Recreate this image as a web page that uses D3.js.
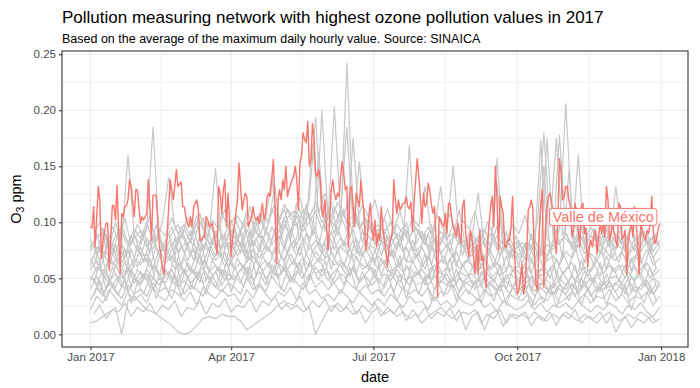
<!DOCTYPE html>
<html>
<head>
<meta charset="utf-8">
<script src="https://cdn.jsdelivr.net/npm/d3@7"></script>
<style>
  body { margin: 0; background: #fff; }
  svg { font-family: "Liberation Sans", Arial, Helvetica, sans-serif; }
</style>
</head>
<body>
<div id="chart"></div>
<script>
// ---- data ----
const titleText = "Pollution measuring network with highest ozone pollution values in 2017";
const subtitleText = "Based on the average of the maximum daily hourly value. Source: SINAICA";
const highlightName = "Valle de México";
const yTicks = [0, 0.05, 0.10, 0.15, 0.20, 0.25];
const xTickLabels = ["Jan 2017", "Apr 2017", "Jul 2017", "Oct 2017", "Jan 2018"];

// Valle de México: [day of 2017, O3 ppm]
const valleMexico = [
  [0,.096],[1,.095],[2,.114],[3,.078],[5,.132],[6,.120],[7,.068],[8,.084],[10,.099],[11,.099],
  [12,.057],[14,.115],[15,.115],[16,.102],[17,.133],[19,.054],[20,.108],[21,.105],[22,.114],[23,.115],
  [24,.120],[25,.138],[26,.132],[28,.105],[29,.129],[30,.129],[31,.114],[32,.099],[33,.105],[34,.102],
  [35,.105],[36,.108],[37,.138],[38,.114],[39,.084],[40,.124],[41,.124],[42,.124],[44,.081],[46,.060],
  [47,.053],[49,.087],[51,.138],[52,.129],[53,.120],[55,.147],[56,.132],[58,.136],[59,.114],[60,.114],
  [61,.105],[62,.099],[63,.096],[64,.105],[65,.096],[66,.114],[68,.120],[69,.111],[70,.084],[71,.084],
  [72,.087],[73,.087],[74,.105],[75,.102],[76,.096],[78,.099],[79,.090],[80,.081],[81,.072],[82,.132],
  [83,.126],[84,.108],[85,.129],[86,.138],[87,.096],[88,.126],[89,.102],[90,.069],[91,.087],[92,.096],
  [94,.120],[95,.153],[96,.132],[97,.111],[99,.126],[100,.123],[101,.096],[103,.105],[104,.114],[105,.105],
  [106,.102],[107,.105],[108,.099],[110,.117],[111,.102],[112,.108],[113,.123],[114,.126],[115,.123],[117,.156],
  [118,.114],[119,.063],[120,.120],[121,.129],[122,.120],[123,.138],[124,.129],[125,.150],[126,.123],[127,.129],
  [129,.138],[130,.141],[131,.150],[132,.138],[133,.111],[134,.153],[135,.159],[136,.180],[137,.174],[138,.171],
  [139,.190],[140,.150],[141,.156],[142,.188],[143,.176],[144,.144],[145,.141],[146,.147],[147,.138],[148,.111],
  [149,.105],[150,.120],[151,.096],[152,.075],[153,.102],[154,.129],[155,.138],[156,.126],[157,.120],[158,.126],
  [159,.123],[160,.141],[161,.154],[162,.144],[163,.129],[164,.132],[165,.078],[166,.129],[167,.132],[169,.096],
  [170,.126],[172,.114],[173,.138],[174,.120],[175,.108],[176,.075],[177,.084],[178,.105],[179,.117],[180,.096],
  [181,.084],[182,.102],[183,.078],[184,.090],[185,.084],[186,.114],[187,.096],[188,.084],[189,.075],[190,.060],
  [191,.078],[193,.090],[194,.138],[195,.120],[196,.108],[197,.120],[198,.111],[199,.114],[200,.117],[201,.117],
  [202,.123],[203,.114],[204,.112],[205,.118],[206,.092],[207,.118],[209,.157],[210,.141],[211,.123],[212,.099],
  [213,.126],[214,.114],[215,.117],[216,.135],[217,.129],[218,.117],[219,.108],[220,.114],[221,.087],[222,.033],
  [223,.105],[224,.102],[225,.099],[226,.096],[227,.108],[228,.090],[229,.117],[230,.117],[231,.105],[232,.096],
  [233,.093],[234,.087],[235,.099],[236,.090],[237,.081],[238,.114],[239,.120],[240,.090],[241,.081],[242,.069],
  [243,.093],[244,.087],[245,.069],[246,.054],[247,.080],[248,.054],[249,.093],[250,.066],[251,.070],[252,.054],
  [253,.042],[254,.081],[255,.099],[256,.114],[257,.123],[258,.096],[259,.150],[260,.123],[261,.075],[262,.123],
  [263,.114],[264,.108],[265,.078],[266,.078],[267,.084],[268,.084],[269,.096],[270,.123],[271,.080],[272,.051],
  [273,.036],[274,.039],[275,.050],[276,.063],[277,.036],[278,.045],[279,.072],[280,.111],[281,.114],[282,.120],
  [283,.111],[284,.069],[285,.045],[286,.039],[287,.090],[288,.115],[289,.129],[290,.042],[291,.093],[292,.114],
  [293,.123],[294,.126],[295,.117],[296,.108],[297,.087],[298,.072],[299,.105],[300,.157],[301,.144],[302,.120],
  [303,.122],[304,.132],[305,.132],[306,.120],[307,.114],[308,.087],[309,.093],[310,.117],[311,.106],[312,.093],
  [313,.078],[314,.114],[315,.117],[316,.090],[317,.095],[318,.060],[319,.078],[320,.084],[321,.078],[322,.087],
  [323,.093],[324,.072],[325,.087],[326,.099],[327,.090],[328,.099],[329,.087],[330,.132],[331,.120],[332,.084],
  [333,.090],[334,.099],[335,.090],[337,.078],[338,.117],[339,.114],[340,.085],[341,.087],[342,.093],[343,.054],
  [344,.084],[345,.093],[346,.099],[347,.087],[348,.114],[349,.099],[350,.081],[351,.054],[352,.099],[353,.093],
  [354,.087],[355,.084],[356,.093],[357,.090],[358,.099],[359,.123],[360,.093],[361,.081],[362,.084],[363,.093],
  [364,.099]
];

// other networks, one value every 4 days from Jan 1
const other01 = [.085,.070,.095,.078,.100,.082,.160,.088, .080,.094,.185,.086,.074,.090,.098, .084,.070,.092,.104,.080,.090,.076,.088, .096,.078,.100,.086,.108,.094,.084, .098,.112,.090,.118,.102,.120,.194,.106, .096,.114,.098,.242,.110,.096,.104,.090, .088,.104,.084,.098,.090,.086,.096, .084,.078,.094,.132,.086,.090,.080,.084, .076,.088,.080,.074,.157,.084,.072,.088, .068,.082,.074,.173,.086,.078,.094, .206,.104,.090,.084,.096,.086,.080,.090, .082,.076,.088,.074,.092,.080,.086,.078];
const other02 = [.075,.090,.068,.082,.072,.092,.078,.086, .092,.078,.088,.070,.084,.096,.080, .094,.082,.100,.076,.090,.148,.084,.096, .080,.094,.072,.098,.086,.102,.141, .090,.104,.084,.110,.096,.108,.092,.200, .102,.203,.106,.092,.175,.098,.088,.100, .082,.094,.078,.090,.084,.169,.080, .092,.076,.086,.080,.094,.150,.082,.078, .086,.126,.078,.090,.076,.084,.070,.082, .078,.066,.084,.072,.175,.086,.080, .090,.080,.160,.076,.088,.082,.094,.078, .132,.084,.072,.086,.078,.090,.074,.084];
const other03 = [.062,.078,.070,.084,.066,.080,.072,.090, .070,.086,.076,.092,.068,.082,.074, .080,.092,.074,.088,.082,.070,.090,.078, .088,.072,.094,.080,.090,.076,.096, .084,.098,.088,.106,.092,.100,.110,.094, .106,.090,.110,.185,.096,.154,.090,.084, .094,.080,.088,.076,.092,.082,.074, .080,.090,.074,.086,.078,.088,.111,.076, .080,.072,.086,.078,.135,.074,.082,.068, .074,.082,.068,.078,.070,.084,.178, .092,.076,.086,.072,.082,.078,.070,.084, .076,.086,.070,.080,.074,.084,.068,.078];
const other04 = [.058,.066,.052,.070,.060,.074,.056,.068, .062,.072,.058,.076,.064,.070,.060, .068,.056,.074,.062,.078,.066,.072,.060, .070,.082,.064,.076,.068,.080,.072, .074,.066,.082,.070,.086,.076,.084,.072, .080,.068,.078,.072,.084,.070,.076,.066, .070,.062,.074,.060,.068,.064,.072, .060,.070,.056,.066,.062,.072,.058,.066, .062,.056,.068,.058,.064,.054,.062,.058, .052,.060,.048,.058,.054,.062,.050, .058,.064,.052,.060,.056,.066,.054,.062, .056,.062,.050,.060,.054,.064,.052,.058];
const other05 = [.048,.060,.054,.044,.062,.050,.058,.046, .056,.048,.062,.052,.058,.046,.064, .054,.060,.050,.066,.056,.062,.052,.068, .058,.064,.054,.070,.060,.066,.056, .064,.058,.072,.062,.068,.060,.074,.066, .070,.062,.066,.058,.072,.064,.060,.068, .058,.066,.054,.062,.056,.060,.052, .058,.050,.062,.054,.060,.048,.056,.052, .054,.048,.058,.050,.056,.046,.054,.050, .046,.052,.044,.054,.048,.042,.050, .044,.052,.046,.056,.048,.054,.044,.050, .052,.046,.056,.048,.054,.044,.050,.046];
const other06 = [.040,.052,.036,.048,.042,.056,.038,.050, .044,.054,.040,.050,.046,.058,.042, .048,.040,.056,.046,.052,.042,.058,.048, .052,.046,.060,.048,.056,.044,.062, .050,.058,.046,.062,.054,.048,.060,.052, .056,.046,.054,.050,.060,.048,.052,.044, .050,.042,.054,.046,.040,.052,.044, .046,.054,.040,.048,.044,.050,.038,.046, .042,.050,.038,.046,.040,.044,.036,.048, .038,.044,.034,.042,.036,.046,.040, .036,.044,.038,.048,.034,.042,.040,.046, .038,.046,.034,.042,.040,.048,.036,.044];
const other07 = [.030,.042,.034,.046,.038,.032,.044,.036, .040,.034,.046,.038,.042,.032,.048, .036,.044,.040,.034,.048,.042,.038,.046, .042,.036,.050,.040,.046,.038,.052, .044,.038,.052,.046,.040,.054,.042,.048, .040,.046,.036,.048,.042,.038,.044,.036, .040,.034,.044,.030,.042,.036,.040, .034,.042,.030,.038,.036,.044,.032,.040, .036,.030,.040,.034,.038,.028,.036,.032, .030,.036,.026,.034,.030,.038,.028, .032,.038,.030,.036,.028,.034,.032,.040, .030,.036,.028,.034,.032,.038,.026,.034];
const other08 = [.010,.012,.016,.020,.024,.000,.030,.034, .028,.022,.020,.016,.012,.008,.002, .000,.002,.008,.014,.016,.014,.018,.016, .016,.012,.004,.008,.012,.016,.020, .026,.030,.022,.026,.020,.024,.000,.012, .022,.026,.020,.024,.018,.022,.010,.020, .024,.018,.022,.016,.020,.014,.018, .010,.016,.020,.024,.018,.014,.022,.004, .016,.020,.004,.018,.022,.007,.018,.014, .018,.014,.020,.016,.012,.018,.014, .020,.016,.012,.018,.014,.010,.016,.020, .002,.012,.018,.014,.020,.016,.010,.014];
const other09 = [.022,.034,.028,.040,.032,.026,.038,.030, .036,.028,.042,.034,.030,.040,.036, .030,.038,.026,.042,.036,.032,.040,.034, .036,.028,.040,.032,.044,.036,.030, .038,.034,.042,.030,.046,.036,.040,.032, .036,.030,.040,.034,.028,.038,.032,.026, .032,.026,.036,.030,.024,.034,.028, .030,.022,.034,.026,.030,.024,.032,.028, .026,.032,.024,.028,.020,.030,.026,.022, .024,.030,.022,.028,.020,.026,.024, .028,.022,.030,.024,.020,.026,.022,.028, .024,.018,.026,.022,.028,.020,.016,.024];
const other10 = [.068,.056,.074,.062,.080,.064,.076,.060, .078,.064,.086,.070,.080,.066,.088, .072,.086,.064,.080,.074,.092,.070,.082, .076,.090,.068,.084,.074,.092,.080, .088,.076,.094,.080,.098,.086,.092,.078, .090,.076,.086,.080,.094,.072,.084,.078, .076,.088,.070,.082,.074,.086,.068, .078,.066,.084,.072,.080,.068,.086,.074, .070,.080,.066,.074,.062,.078,.068,.074, .064,.072,.060,.076,.066,.070,.062, .074,.068,.080,.064,.072,.066,.078,.070, .066,.074,.060,.070,.064,.076,.062,.068];
const other11 = [.052,.044,.058,.048,.054,.042,.060,.050, .046,.058,.050,.044,.056,.052,.048, .058,.046,.052,.060,.048,.056,.044,.054, .048,.058,.052,.044,.062,.050,.056, .052,.060,.048,.056,.050,.064,.054,.058, .048,.056,.062,.052,.058,.046,.054,.060, .046,.054,.048,.058,.050,.044,.056, .050,.044,.052,.046,.054,.042,.050,.046, .048,.042,.052,.044,.038,.050,.044,.040, .042,.048,.038,.046,.040,.036,.044, .040,.046,.036,.044,.050,.038,.046,.042, .046,.040,.050,.038,.044,.042,.036,.046];
const other12 = [.078,.086,.092,.074,.088,.096,.082,.094, .086,.100,.082,.094,.088,.104,.090, .098,.088,.106,.094,.100,.086,.108,.096, .104,.092,.110,.098,.106,.090,.112, .100,.116,.104,.096,.112,.104,.118,.100, .108,.096,.112,.100,.106,.094,.102,.092, .098,.090,.100,.086,.096,.088,.094, .086,.096,.082,.092,.084,.098,.088,.080, .090,.082,.094,.078,.088,.080,.086,.076, .082,.074,.086,.070,.080,.076,.084, .086,.078,.092,.080,.096,.084,.088,.078, .090,.080,.086,.076,.092,.082,.088,.080];

// more networks, one value every 4 days from Jan 3
const late01 = [.082,.064,.090,.070,.094,.068,.088,.074, .092,.072,.098,.076,.090,.070,.096,.078, .094,.074,.100,.080,.096,.076,.102,.084, .098,.078,.104,.082,.100,.132,.086,.104, .110,.084,.116,.090,.162,.092,.118,.088, .112,.086,.108,.082,.104,.080,.098,.076, .096,.078,.100,.074,.094,.080,.098,.072, .092,.074,.096,.070,.090,.076,.094,.072, .088,.070,.092,.068,.084,.066,.090,.070, .150,.072,.094,.068,.146,.074,.096,.070, .090,.072,.094,.068,.088,.074,.096,.070, .088,.072,.090];
const late02 = [.060,.078,.056,.082,.062,.076,.054,.080, .064,.084,.058,.080,.066,.086,.060,.082, .066,.088,.062,.084,.070,.090,.064,.086, .072,.092,.066,.088,.074,.094,.068,.090, .076,.098,.070,.094,.080,.102,.074,.096, .078,.100,.072,.092,.076,.096,.070,.088, .068,.088,.064,.084,.070,.090,.062,.082, .064,.084,.060,.080,.066,.086,.058,.078, .060,.080,.056,.076,.062,.082,.054,.074, .058,.078,.052,.074,.060,.080,.056,.076, .062,.082,.058,.078,.064,.084,.056,.076, .060,.078,.058];
const late03 = [.046,.064,.040,.060,.048,.066,.042,.058, .050,.068,.044,.062,.052,.070,.046,.064, .054,.072,.048,.066,.056,.074,.050,.068, .058,.076,.052,.070,.060,.078,.054,.072, .062,.080,.056,.074,.064,.082,.058,.076, .060,.078,.054,.072,.058,.076,.052,.070, .052,.070,.046,.066,.054,.072,.048,.064, .050,.068,.044,.062,.052,.066,.042,.060, .046,.062,.040,.058,.048,.064,.038,.056, .044,.060,.036,.056,.046,.062,.040,.058, .046,.064,.040,.060,.048,.062,.038,.056, .044,.060,.042];
const late04 = [.034,.048,.030,.044,.036,.050,.028,.046, .036,.052,.032,.048,.038,.054,.034,.050, .040,.056,.036,.052,.042,.058,.038,.054, .042,.060,.038,.056,.044,.062,.040,.058, .046,.064,.042,.060,.048,.066,.044,.058, .044,.060,.040,.056,.042,.058,.036,.054, .038,.054,.032,.050,.036,.052,.030,.048, .034,.050,.030,.046,.036,.048,.028,.044, .030,.046,.026,.042,.032,.044,.024,.040, .028,.044,.024,.040,.030,.046,.026,.042, .030,.046,.026,.042,.032,.044,.022,.040, .028,.044,.030];
const late05 = [.090,.100,.076,.096,.084,.104,.080,.098, .088,.106,.082,.100,.140,.096,.086,.104, .092,.108,.084,.102,.094,.112,.088,.106, .096,.114,.090,.108,.100,.118,.094,.112, .104,.122,.098,.170,.108,.126,.100,.118, .106,.124,.100,.116,.104,.120,.096,.112, .094,.110,.088,.104,.096,.132,.090,.106, .092,.108,.086,.102,.094,.110,.084,.100, .088,.104,.082,.098,.090,.106,.084,.100, .180,.096,.175,.088,.104,.080,.098,.084, .094,.082,.098,.078,.092,.084,.096,.080, .092,.078,.090];
const late06 = [.018,.026,.014,.022,.020,.028,.016,.024, .020,.028,.018,.026,.022,.030,.016,.024, .022,.030,.018,.028,.024,.032,.020,.026, .024,.032,.020,.030,.026,.034,.022,.028, .026,.034,.022,.030,.024,.032,.020,.028, .022,.030,.018,.026,.020,.028,.016,.024, .018,.026,.012,.022,.016,.024,.014,.020, .016,.024,.012,.020,.018,.022,.010,.018, .014,.022,.010,.018,.016,.020,.008,.016, .012,.020,.008,.018,.014,.022,.010,.016, .014,.020,.010,.018,.012,.016,.006,.014, .010,.016,.012];
const late07 = [.070,.058,.074,.062,.068,.054,.076,.060, .072,.060,.078,.064,.070,.058,.080,.066, .076,.062,.082,.066,.074,.060,.084,.070, .080,.066,.086,.070,.078,.064,.088,.072, .084,.070,.090,.074,.082,.068,.092,.076, .082,.068,.086,.070,.078,.064,.084,.068, .074,.060,.078,.064,.072,.058,.080,.062, .070,.056,.074,.060,.068,.054,.076,.058, .064,.052,.070,.056,.062,.048,.068,.054, .062,.050,.068,.054,.060,.046,.066,.052, .064,.052,.070,.056,.062,.050,.068,.054, .062,.050,.060];
const late08 = [.050,.038,.056,.044,.052,.040,.058,.046, .054,.042,.060,.048,.056,.044,.062,.050, .058,.046,.064,.052,.060,.048,.066,.054, .062,.050,.068,.056,.064,.052,.070,.058, .066,.054,.072,.060,.068,.056,.074,.062, .064,.052,.070,.058,.062,.050,.068,.056, .058,.046,.062,.050,.056,.044,.060,.048, .054,.042,.058,.046,.052,.040,.056,.044, .050,.038,.054,.042,.048,.036,.052,.040, .048,.036,.052,.040,.046,.034,.050,.038, .050,.038,.054,.042,.048,.036,.052,.040, .048,.036,.046];

const otherNetworks = [other01, other02, other03, other04, other05, other06,
                       other07, other08, other09, other10, other11, other12];
const lateNetworks = [late01, late02, late03, late04, late05, late06, late07, late08];
const sampleStep = 4;   // days between values
const lateStart = 2;    // first day of the late* series
const labelDay = 328, labelValue = 0.105;

// ---- chart ----
const width = 700, height = 388;
const panel = { left: 62, right: 688, top: 51, bottom: 347 };
const red = "#F8766D";

const t0 = Date.UTC(2017, 0, 1);
const dayDate = (d) => new Date(t0 + d * 864e5);

const x = d3.scaleUtc()
  .domain([dayDate(-18.2), dayDate(364 + 18.2)])
  .range([panel.left, panel.right]);
const y = d3.scaleLinear()
  .domain([-0.0113, 0.2529])
  .range([panel.bottom, panel.top]);

const svg = d3.select("#chart").append("svg")
  .attr("width", width).attr("height", height);

// grid
const xMajor = d3.utcMonth.every(3).range(dayDate(-18), dayDate(383));
const xMinor = d3.pairs(xMajor).map(([a, b]) => new Date((+a + +b) / 2));
const yMinor = d3.pairs(yTicks).map(([a, b]) => (a + b) / 2);
const grid = svg.append("g").attr("stroke", "#EBEBEB");
grid.selectAll(".xm").data(xMinor).join("line")
  .attr("x1", (d) => x(d)).attr("x2", (d) => x(d))
  .attr("y1", panel.top).attr("y2", panel.bottom).attr("stroke-width", 0.6);
grid.selectAll(".ym").data(yMinor).join("line")
  .attr("y1", (d) => y(d)).attr("y2", (d) => y(d))
  .attr("x1", panel.left).attr("x2", panel.right).attr("stroke-width", 0.6);
grid.selectAll(".xM").data(xMajor).join("line")
  .attr("x1", (d) => x(d)).attr("x2", (d) => x(d))
  .attr("y1", panel.top).attr("y2", panel.bottom).attr("stroke-width", 1.1);
grid.selectAll(".yM").data(yTicks).join("line")
  .attr("y1", (d) => y(d)).attr("y2", (d) => y(d))
  .attr("x1", panel.left).attr("x2", panel.right).attr("stroke-width", 1.1);

// lines
const line = d3.line()
  .x((d) => x(dayDate(d[0])))
  .y((d) => y(d[1]));

const grayData = otherNetworks.map((vals) => vals.map((v, i) => [i * sampleStep, v]))
  .concat(lateNetworks.map((vals) => vals.map((v, i) => [lateStart + i * sampleStep, v])));

svg.append("g")
  .selectAll("path")
  .data(grayData)
  .join("path")
  .attr("d", line)
  .attr("fill", "none")
  .attr("stroke", "#C8C8C8")
  .attr("stroke-width", 1.2)
  .attr("stroke-linejoin", "round");

svg.append("path")
  .datum(valleMexico)
  .attr("d", line)
  .attr("fill", "none")
  .attr("stroke", red)
  .attr("stroke-width", 1.4)
  .attr("stroke-linejoin", "round");

// label
const lab = svg.append("g")
  .attr("transform", `translate(${x(dayDate(labelDay))},${y(labelValue)})`);
const labText = lab.append("text")
  .attr("text-anchor", "middle")
  .attr("dy", "0.36em")
  .attr("fill", red)
  .attr("font-size", 14.5)
  .text(highlightName);
const bb = labText.node().getBBox();
lab.insert("rect", "text")
  .attr("x", bb.x - 3).attr("y", bb.y - 0.5)
  .attr("width", bb.width + 6).attr("height", bb.height + 1)
  .attr("rx", 3)
  .attr("fill", "#fff")
  .attr("stroke", red)
  .attr("stroke-width", 1);

// panel border
svg.append("rect")
  .attr("x", panel.left).attr("y", panel.top)
  .attr("width", panel.right - panel.left).attr("height", panel.bottom - panel.top)
  .attr("fill", "none").attr("stroke", "#333333").attr("stroke-width", 1.1);

// axes
const xAxis = d3.axisBottom(x).tickValues(xMajor).tickSize(3).tickPadding(3)
  .tickFormat((d, i) => xTickLabels[i]);
const yAxis = d3.axisLeft(y).tickValues(yTicks).tickSize(3).tickPadding(3)
  .tickFormat(d3.format(".2f"));

const gx = svg.append("g").attr("transform", `translate(0,${panel.bottom})`).call(xAxis);
const gy = svg.append("g").attr("transform", `translate(${panel.left},0)`).call(yAxis);
[gx, gy].forEach((g) => {
  g.select(".domain").remove();
  g.selectAll(".tick line").attr("stroke", "#333333").attr("stroke-width", 1.1);
  g.selectAll(".tick text").attr("fill", "#4D4D4D").attr("font-size", 11.5)
    .attr("font-family", "Liberation Sans, Arial, sans-serif");
});

// titles
svg.append("text").attr("x", panel.left).attr("y", 23)
  .attr("font-size", 17).attr("fill", "#000").text(titleText);
svg.append("text").attr("x", panel.left).attr("y", 43)
  .attr("font-size", 12.5).attr("fill", "#000").text(subtitleText);

svg.append("text")
  .attr("x", (panel.left + panel.right) / 2).attr("y", 382)
  .attr("text-anchor", "middle").attr("font-size", 14.5).text("date");

const yt = svg.append("text")
  .attr("transform", `translate(21,${(panel.top + panel.bottom) / 2}) rotate(-90)`)
  .attr("text-anchor", "middle").attr("font-size", 14.5);
yt.append("tspan").text("O");
yt.append("tspan").attr("font-size", 10.5).attr("dy", 3).text("3");
yt.append("tspan").attr("dy", -3).text(" ppm");
</script>
</body>
</html>
